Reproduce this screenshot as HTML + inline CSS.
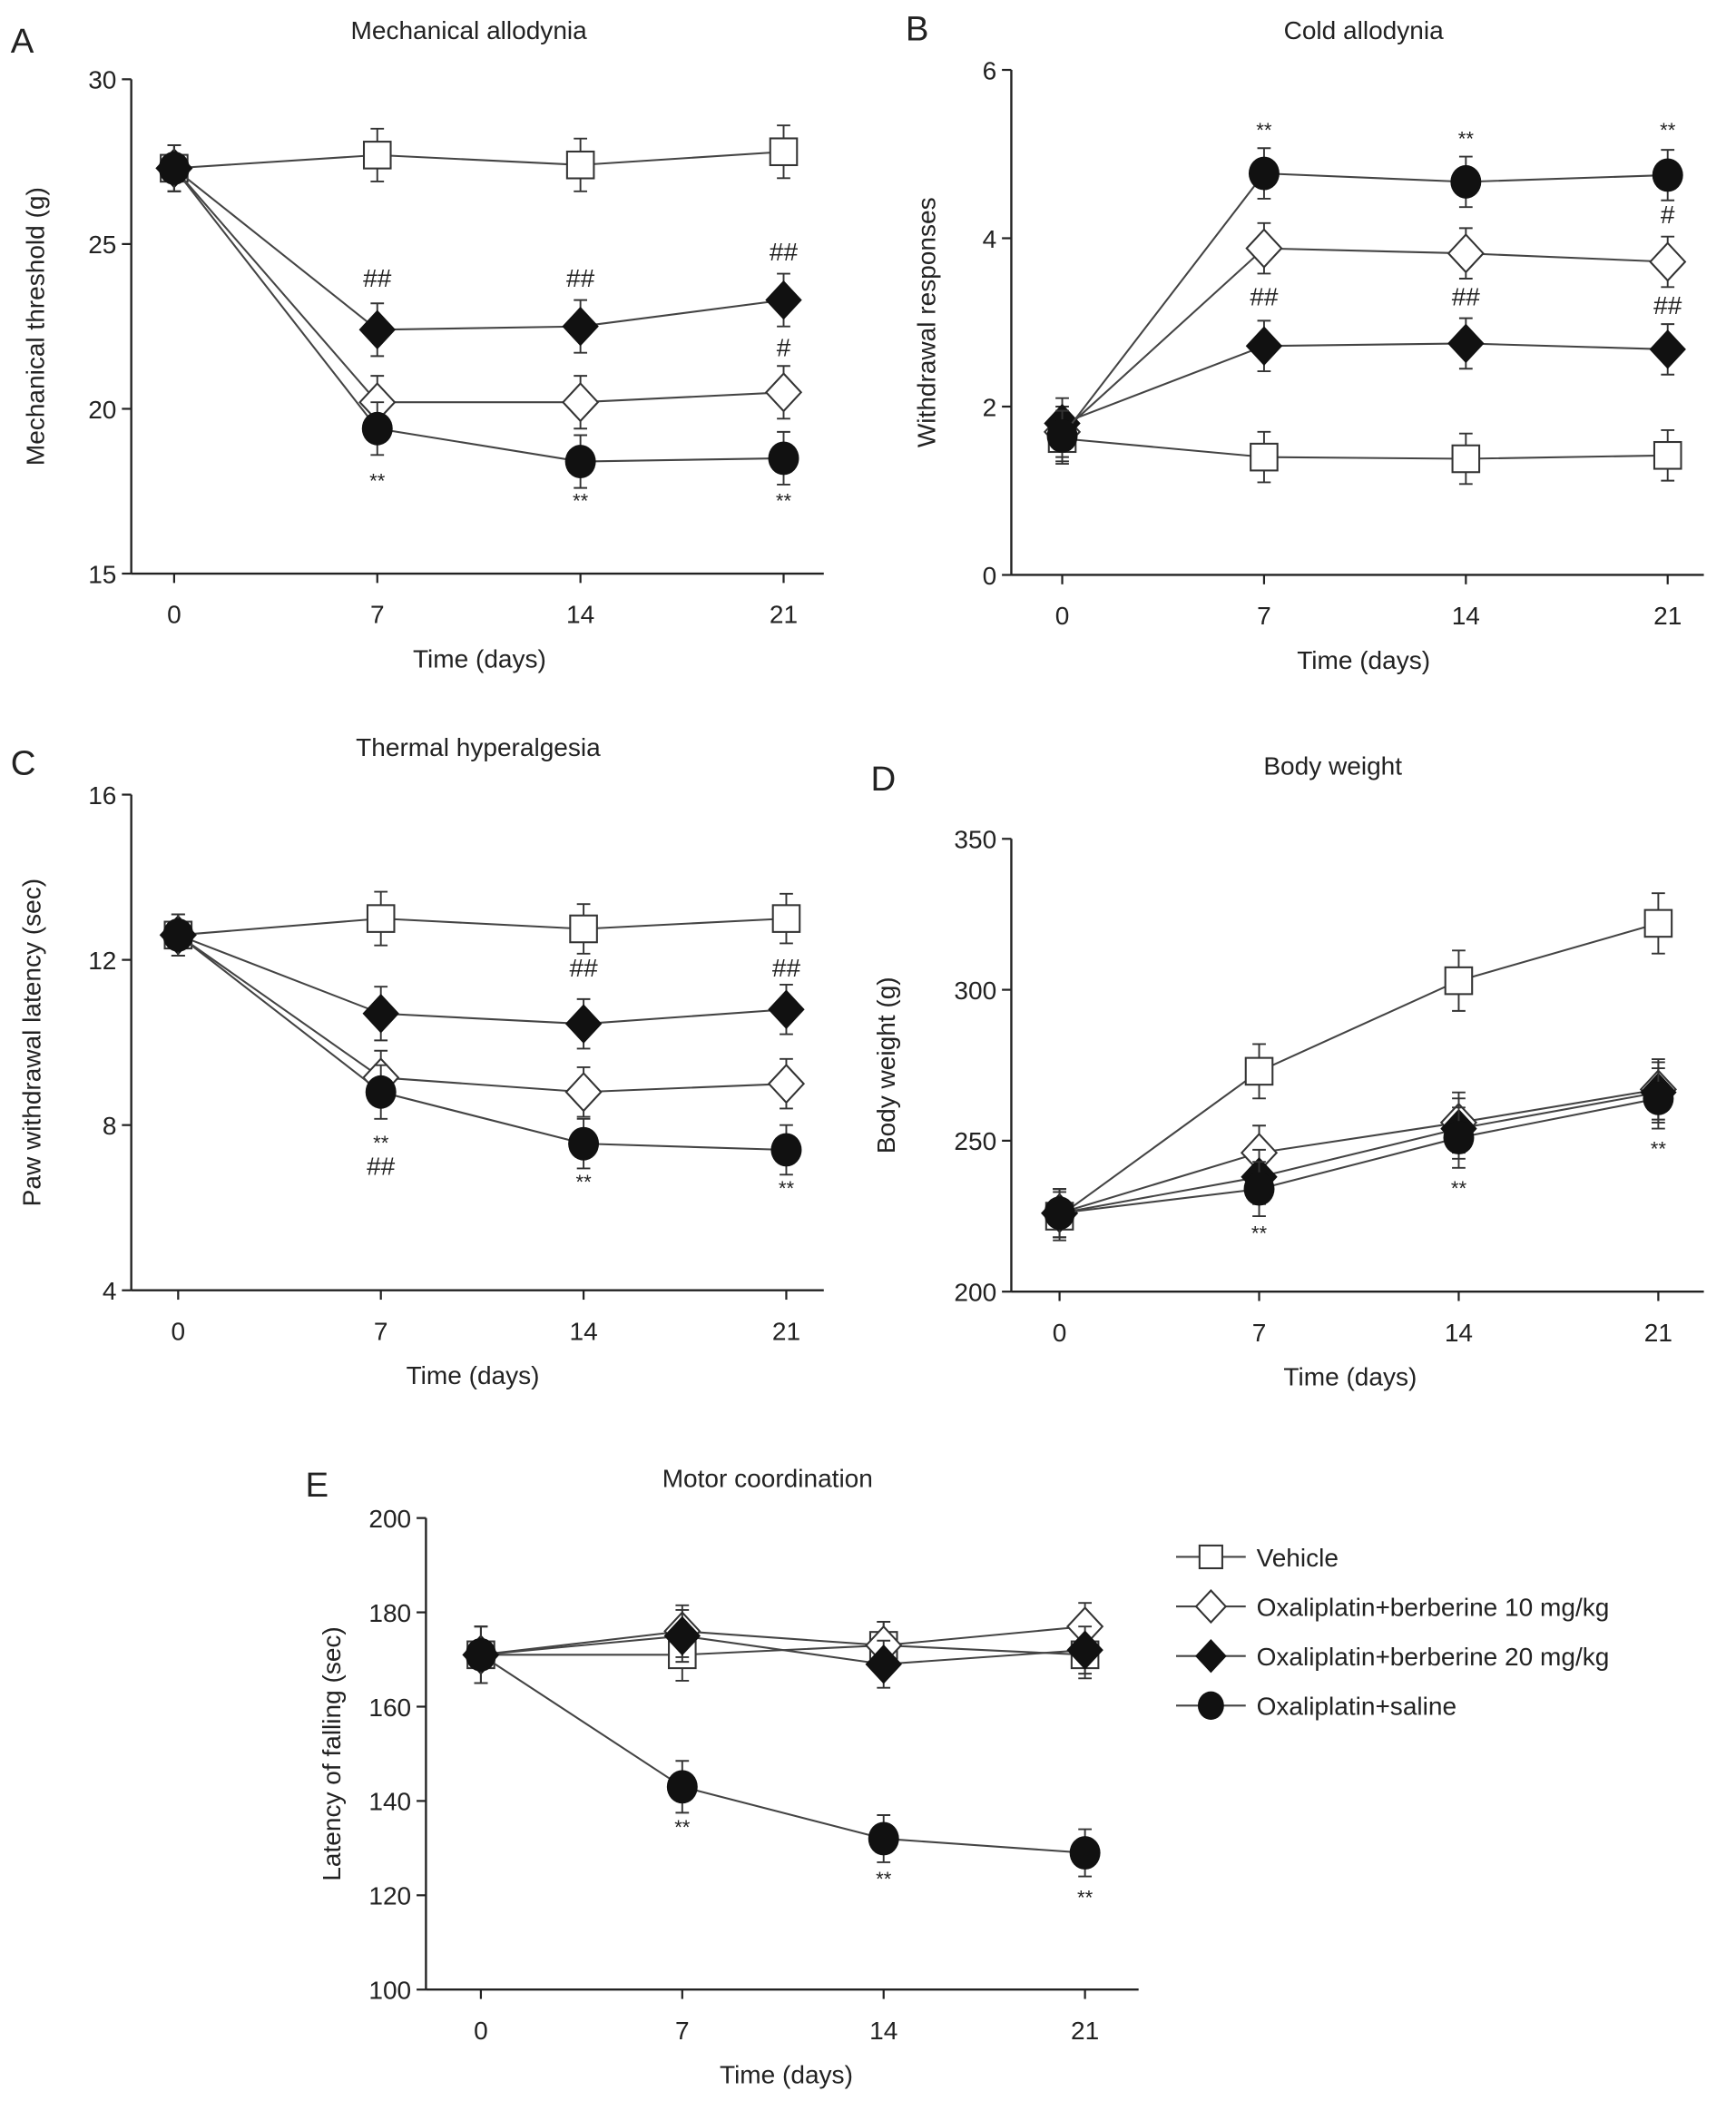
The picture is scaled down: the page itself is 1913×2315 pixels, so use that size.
<!DOCTYPE html>
<html><head><meta charset="utf-8"><style>
html,body{margin:0;padding:0;background:#fff}
svg{display:block}
text{font-family:"Liberation Sans",sans-serif;fill:#222}
</style></head><body>
<svg id="fig" width="1913" height="2315" viewBox="0 0 1296 1568" xmlns="http://www.w3.org/2000/svg"></svg>
<script>
const days = [0, 7, 14, 21];
const seriesNames = ["Vehicle", "Oxaliplatin+berberine 10 mg/kg", "Oxaliplatin+berberine 20 mg/kg", "Oxaliplatin+saline"];
const markers = ["square", "diamond-open", "diamond", "circle"];

const aVehicle = [27.3, 27.7, 27.4, 27.8];
const aB10 = [27.3, 20.2, 20.2, 20.5];
const aB20 = [27.3, 22.4, 22.5, 23.3];
const aSaline = [27.3, 19.4, 18.4, 18.5];
const aErr = [0.7, 0.8, 0.8, 0.8];
const aTicks = [15, 20, 25, 30];

const bVehicle = [1.62, 1.4, 1.38, 1.42];
const bB10 = [1.7, 3.88, 3.82, 3.72];
const bB20 = [1.8, 2.72, 2.75, 2.68];
const bSaline = [1.65, 4.77, 4.67, 4.75];
const bErr = [0.3, 0.3, 0.3, 0.3];
const bTicks = [0, 2, 4, 6];

const cVehicle = [12.6, 13.0, 12.75, 13.0];
const cB10 = [12.6, 9.15, 8.8, 9.0];
const cB20 = [12.6, 10.7, 10.45, 10.8];
const cSaline = [12.6, 8.8, 7.55, 7.4];
const cErr = [0.5, 0.65, 0.6, 0.6];
const cTicks = [4, 8, 12, 16];

const dVehicle = [225, 273, 303, 322];
const dB10 = [226, 246, 256, 267];
const dB20 = [226, 238, 254, 266];
const dSaline = [226, 234, 251, 264];
const dErr = [8, 9, 10, 10];
const dTicks = [200, 250, 300, 350];

const eVehicle = [171, 171, 173, 171];
const eB10 = [171, 176, 173, 177];
const eB20 = [171, 175, 169, 172];
const eSaline = [171, 143, 132, 129];
const eErr = [6, 5.5, 5, 5];
const eTicks = [100, 120, 140, 160, 180, 200];

const svg = document.getElementById('fig');
const NS = 'http://www.w3.org/2000/svg';
function mk(tag, attrs, parent, txt) {
  const e = document.createElementNS(NS, tag);
  for (const k in attrs) e.setAttribute(k, attrs[k]);
  if (txt !== undefined) e.textContent = txt;
  (parent || svg).appendChild(e);
  return e;
}
function drawMarker(type, x, y, g, sz) {
  let m;
  const s = sz || 1;
  if (type === 'square') m = mk('rect', {x: x-10*s, y: y-10*s, width: 20*s, height: 20*s, fill: '#fff', stroke: '#333', 'stroke-width': 1.4}, g);
  else if (type === 'diamond-open') m = mk('path', {d: `M${x} ${y-14*s}L${x+13*s} ${y}L${x} ${y+14*s}L${x-13*s} ${y}Z`, fill: '#fff', stroke: '#333', 'stroke-width': 1.4}, g);
  else if (type === 'diamond') m = mk('path', {d: `M${x} ${y-14*s}L${x+13*s} ${y}L${x} ${y+14*s}L${x-13*s} ${y}Z`, fill: '#111', stroke: '#111', 'stroke-width': 1}, g);
  else m = mk('ellipse', {cx: x, cy: y, rx: 11.5*s, ry: 12.5*s, fill: '#111'}, g);
  
  
  return m;
}

function panel(cfg) {
  const g = mk('g', {});
  
  
  const yS = v => cfg.yB + (v - cfg.yMin) / (cfg.yMax - cfg.yMin) * (cfg.yT - cfg.yB);
  const xS = d => cfg.x0 + (d - days[0]) / (days[3] - days[0]) * (cfg.x21 - cfg.x0);
  const L = mk('text', {x: cfg.letterX, y: cfg.letterY, 'font-size': 26}, g, cfg.id);
   
  const T = mk('text', {x: cfg.titleX, y: cfg.titleY, 'font-size': 19, 'text-anchor': 'middle'}, g, cfg.title);
   
  const ya = mk('line', {x1: cfg.xL, y1: cfg.yT, x2: cfg.xL, y2: cfg.yB, stroke: '#222', 'stroke-width': 1.6}, g);
   
  const xa = mk('line', {x1: cfg.xL, y1: cfg.yB, x2: cfg.xR, y2: cfg.yB, stroke: '#222', 'stroke-width': 1.6}, g);
   
  cfg.ticks.forEach(t => {
    const y = yS(t);
    mk('line', {x1: cfg.xL - 7, y1: y, x2: cfg.xL, y2: y, stroke: '#222', 'stroke-width': 1.5}, g);
    const tl = mk('text', {x: cfg.xL - 11, y: y + 7, 'font-size': 19, 'text-anchor': 'end'}, g, t);
     
  });
  days.forEach(d => {
    const x = xS(d);
    mk('line', {x1: x, y1: cfg.yB, x2: x, y2: cfg.yB + 7, stroke: '#222', 'stroke-width': 1.5}, g);
    const tl = mk('text', {x: x, y: cfg.yB + 37, 'font-size': 19, 'text-anchor': 'middle'}, g, d);
     
  });
  const xt = mk('text', {x: cfg.xLabX, y: cfg.yB + 70, 'font-size': 19, 'text-anchor': 'middle'}, g, 'Time (days)');
   
  const cy = (cfg.yT + cfg.yB) / 2;
  const yt = mk('text', {x: cfg.yLabX, y: cy, 'font-size': 19, 'text-anchor': 'middle', transform: `rotate(-90 ${cfg.yLabX} ${cy})`}, g, cfg.ylab);
   
  cfg.series.forEach((vals, si) => {
    const sg = mk('g', {}, g);
    
    
    const pts = vals.map((v, i) => xS(days[i]) + ',' + yS(v)).join(' ');
    const pl = mk('polyline', {points: pts, fill: 'none', stroke: '#444', 'stroke-width': 1.4}, sg);
     
    vals.forEach((v, i) => {
      const x = xS(days[i]);
      const e = cfg.err[i];
      const y1 = yS(v + e), y2 = yS(v - e);
      const eb = mk('path', {d: `M${x} ${y1}V${y2}M${x-5} ${y1}H${x+5}M${x-5} ${y2}H${x+5}`, stroke: '#333', 'stroke-width': 1.3, fill: 'none'}, sg);
       
    });
    vals.forEach((v, i) => drawMarker(markers[si], xS(days[i]), yS(v), sg));
  });
  (cfg.notes || []).forEach(n => {
    const a = mk('text', {x: xS(n[0]), y: yS(n[1]), 'font-size': n[2].indexOf('#') >= 0 ? 19 : 15, 'text-anchor': 'middle'}, g, n[2]);
     
  });
}

panel({id: 'A', title: 'Mechanical allodynia', titleX: 350, titleY: 29, letterX: 8, letterY: 39,
  xL: 98, xR: 615, yT: 59, yB: 428, yMin: 15, yMax: 30, x0: 130, x21: 585, xLabX: 358, yLabX: 33,
  ylab: 'Mechanical threshold (g)', ticks: aTicks, err: aErr,
  series: [aVehicle, aB10, aB20, aSaline],
  notes: [[7, 23.7, '##'], [14, 23.7, '##'], [21, 24.5, '##'], [21, 21.6, '#'], [7, 17.6, '**'], [14, 17.0, '**'], [21, 17.0, '**']]});

panel({id: 'B', title: 'Cold allodynia', titleX: 1018, titleY: 29, letterX: 676, letterY: 30,
  xL: 755, xR: 1272, yT: 52, yB: 429, yMin: 0, yMax: 6, x0: 793, x21: 1245, xLabX: 1018, yLabX: 698,
  ylab: 'Withdrawal responses', ticks: bTicks, err: bErr,
  series: [bVehicle, bB10, bB20, bSaline],
  notes: [[7, 5.2, '**'], [14, 5.1, '**'], [21, 5.2, '**'], [21, 4.18, '#'], [7, 3.2, '##'], [14, 3.2, '##'], [21, 3.1, '##']]});

panel({id: 'C', title: 'Thermal hyperalgesia', titleX: 357, titleY: 564, letterX: 8, letterY: 578,
  xL: 98, xR: 615, yT: 593, yB: 963, yMin: 4, yMax: 16, x0: 133, x21: 587, xLabX: 353, yLabX: 30,
  ylab: 'Paw withdrawal latency (sec)', ticks: cTicks, err: cErr,
  series: [cVehicle, cB10, cB20, cSaline],
  notes: [[14, 11.6, '##'], [21, 11.6, '##'], [7, 7.4, '**'], [7, 6.8, '##'], [14, 6.45, '**'], [21, 6.3, '**']]});

panel({id: 'D', title: 'Body weight', titleX: 995, titleY: 578, letterX: 650, letterY: 590,
  xL: 755, xR: 1272, yT: 626, yB: 964, yMin: 200, yMax: 350, x0: 791, x21: 1238, xLabX: 1008, yLabX: 668,
  ylab: 'Body weight (g)', ticks: dTicks, err: dErr,
  series: [dVehicle, dB10, dB20, dSaline],
  notes: [[7, 217, '**'], [14, 232, '**'], [21, 245, '**']]});

panel({id: 'E', title: 'Motor coordination', titleX: 573, titleY: 1110, letterX: 228, letterY: 1117,
  xL: 318, xR: 850, yT: 1133, yB: 1485, yMin: 100, yMax: 200, x0: 359, x21: 810, xLabX: 587, yLabX: 254,
  ylab: 'Latency of falling (sec)', ticks: eTicks, err: eErr,
  series: [eVehicle, eB10, eB20, eSaline],
  notes: [[7, 133, '**'], [14, 122, '**'], [21, 118, '**']]});

const leg = mk('g', {});


seriesNames.forEach((n, i) => {
  const y = 1162 + i * 37;
  const eg = mk('g', {}, leg);
  
  
  mk('line', {x1: 878, y1: y, x2: 930, y2: y, stroke: '#444', 'stroke-width': 1.4}, eg);
  drawMarker(markers[i], 904, y, eg, 0.85);
  mk('text', {x: 938, y: y + 7, 'font-size': 19}, eg, n);
});
</script>
</body></html>
